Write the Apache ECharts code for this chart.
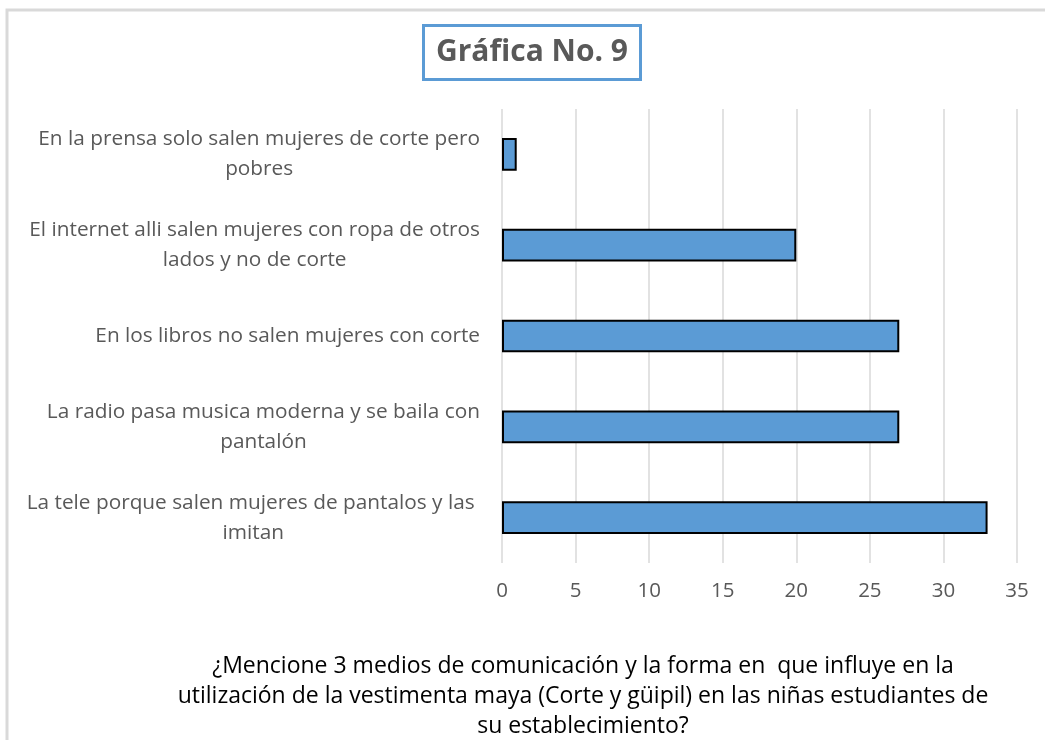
<!DOCTYPE html>
<html>
<head>
<meta charset="utf-8">
<title>Gráfica No. 9</title>
<script src="https://cdn.jsdelivr.net/npm/echarts@6/dist/echarts.min.js"></script>
<style>
  html, body { margin: 0; padding: 0; background: #fff; }
  #chart { width: 1045px; height: 740px; }
</style>
</head>
<body>
<div id="chart"></div>
<script>
// categorias, de arriba hacia abajo (con saltos de linea como en el original)
const categorias = [
  'En la prensa solo salen mujeres de corte pero\npobres',
  'El internet alli salen mujeres con ropa de otros\nlados y no de corte',
  'En los libros no salen mujeres con corte',
  'La radio pasa musica moderna y se baila con\npantalón',
  'La tele porque salen mujeres de pantalos y las \nimitan'
];
const valores = [1, 20, 27, 27, 33];
const ejeMin = 0;
const ejeMax = 35;
const ejeIntervalo = 5;
const titulo = 'Gráfica No. 9';
const pregunta = '¿Mencione 3 medios de comunicación y la forma en  que influye en la\nutilización de la vestimenta maya (Corte y güipil) en las niñas estudiantes de\nsu establecimiento?';

const fuente = '"Open Sans", Lato, sans-serif';

const chart = echarts.init(document.getElementById('chart'));

const option = {
  animation: false,
  backgroundColor: '#fff',
  title: [
    {
      text: titulo,
      left: 423,
      top: 25,
      padding: [9, 13, 10, 13],
      borderColor: '#5b9bd5',
      borderWidth: 3,
      textStyle: { fontFamily: fuente, fontSize: 30, lineHeight: 36, fontWeight: 'bold', color: '#595959' }
    },
    {
      text: pregunta,
      left: 578,
      top: 646,
      textAlign: 'center',
      textStyle: { fontFamily: fuente, fontSize: 23, fontWeight: 'normal', color: '#000', lineHeight: 30, align: 'center' }
    }
  ],
  graphic: [
    {
      type: 'rect',
      silent: true,
      shape: { x: 7, y: 10, width: 1100, height: 800 },
      style: { fill: 'none', stroke: '#d9d9d9', lineWidth: 3 }
    }
  ],
  grid: { left: 502, right: 28, top: 109, bottom: 177 },
  xAxis: {
    type: 'value',
    min: ejeMin,
    max: ejeMax,
    interval: ejeIntervalo,
    axisLine: { show: false },
    axisTick: { show: false },
    splitLine: { lineStyle: { color: '#d9d9d9', width: 1.5 } },
    axisLabel: { margin: 18, fontFamily: fuente, fontSize: 20.5, color: '#595959' }
  },
  yAxis: {
    type: 'category',
    data: categorias,
    inverse: true,
    axisLine: { show: false },
    axisTick: { show: false },
    axisLabel: {
      margin: 22,
      formatter: v => v.split('\n').map(l => '{c|' + l + '}').join('\n'),
      rich: {
        c: { fontFamily: fuente, fontSize: 20.8, color: '#595959', align: 'center', lineHeight: 30 }
      }
    }
  },
  series: [
    {
      type: 'bar',
      data: valores,
      barWidth: '36%',
      itemStyle: { color: '#5b9bd5', borderColor: '#000', borderWidth: 2 }
    }
  ]
};

chart.setOption(option);
</script>
</body>
</html>
